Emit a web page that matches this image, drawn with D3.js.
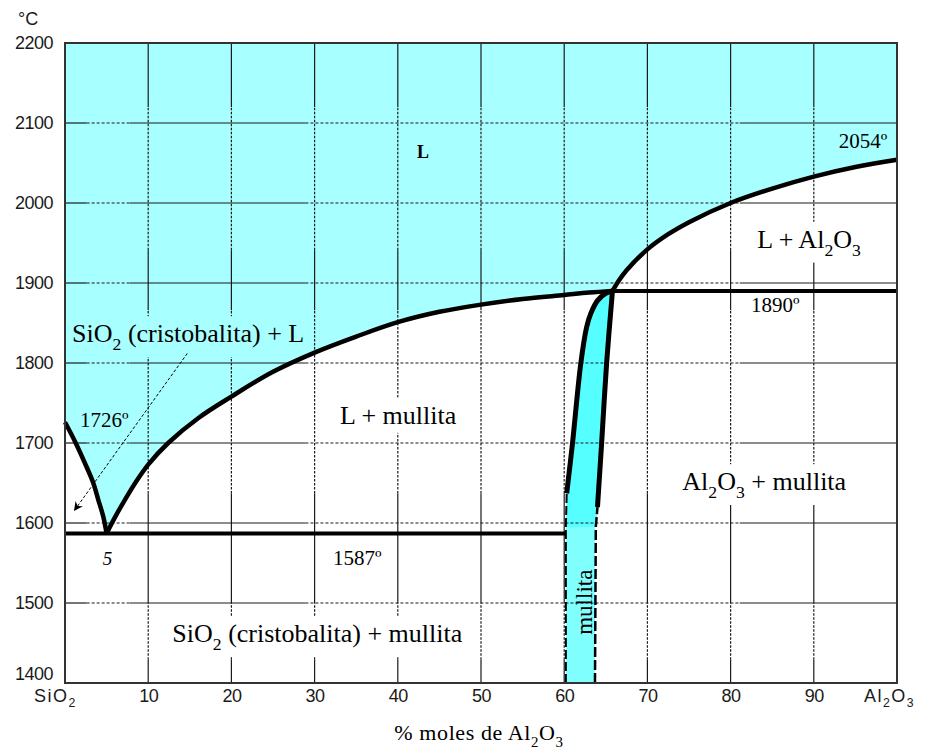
<!DOCTYPE html>
<html>
<head>
<meta charset="utf-8">
<script src="https://cdn.jsdelivr.net/npm/d3@7"></script>
<style>
  body { margin: 0; background: #ffffff; }
  svg { display: block; }
</style>
</head>
<body>
<svg id="chart" width="929" height="753"></svg>
<script>
// SiO2 – Al2O3 phase diagram (composition in mol % Al2O3, temperature in °C)

const xTicks = [0, 10, 20, 30, 40, 50, 60, 70, 80, 90, 100];
const xTickLabels = ["SiO_2", "10", "20", "30", "40", "50", "60", "70", "80", "90", "Al_2O_3"];
const yTicks = [1400, 1500, 1600, 1700, 1800, 1900, 2000, 2100, 2200];

// invariant points
const silicaMelt = 1726;
const eutecticComp = 5, eutecticT = 1587;
const peritecticComp = 65.8, peritecticT = 1890;
const aluminaMelt = 2054;
const mulliteLeftComp = 60.2, mulliteRightComp = 63.7;

// liquidus curves [mol % Al2O3, °C]
const silicaLiquidus = [[0, 1726], [1.2, 1702], [2.6, 1670], [3.4, 1650], [4.0, 1629], [4.6, 1608], [5, 1587]];
const mulliteLiquidus = [[5, 1587], [6.0, 1607], [7.2, 1629], [8.5, 1651], [10, 1673], [12.4, 1700], [16, 1731], [20, 1758],
  [25, 1789], [30, 1813], [35, 1833], [40, 1851], [45, 1864], [50, 1873], [55, 1880], [60, 1885], [63, 1888], [65.8, 1890]];
const aluminaLiquidus = [[65.8, 1890], [66.5, 1902], [67.5, 1916], [70, 1942], [72.5, 1961], [75, 1976],
  [80, 2000], [85, 2018], [90, 2033], [95, 2045], [100, 2054]];

// mullite solid-solution boundaries
const mulliteSolvusLeft = [[60.3, 1637], [61.0, 1700], [62.0, 1800], [62.7, 1845], [63.2, 1862], [64.0, 1878], [65.0, 1887], [65.8, 1890]];
const mulliteSolvusRight = [[64.0, 1620], [64.5, 1700], [65.1, 1800], [65.8, 1890]];
const mulliteLowLeft = [[60.2, 1400], [60.2, 1595], [60.3, 1637]];
const mulliteLowRight = [[63.7, 1400], [63.8, 1595], [64.0, 1620]];
const mulliteBandTop = 1595;

// grid line runs: solid / dashed pieces
const vGridRuns = [[1400, 1429, "s"], [1429, 1500, "d"], [1500, 1637, "s"], [1637, 1866, "d"], [1866, 1941, "s"], [1941, 2120, "d"], [2120, 2200, "s"]];
const hGridRuns = [[0, 2.6, "s"], [2.6, 7.8, "d"], [7.8, 28.9, "s"], [28.9, 81.1, "d"], [81.1, 100, "s"]];

// field and point labels
const fieldLabels = [
  { text: "SiO_2 (cristobalita) + L", c: 0.85, t: 1826, size: 26, bg: "#a8ffff" },
  { text: "L + mullita", c: 33.05, t: 1724, size: 26, bg: "#ffffff" },
  { text: "SiO_2 (cristobalita) + mullita", c: 12.9, t: 1451, size: 26, bg: "#ffffff" },
  { text: "L + Al_2O_3", c: 83.2, t: 1944, size: 26, bg: "#ffffff" },
  { text: "Al_2O_3 + mullita", c: 74.2, t: 1641, size: 26, bg: "#ffffff" },
  { text: "1726º", c: 1.8, t: 1720, size: 21, bg: null },
  { text: "1587º", c: 32.2, t: 1547, size: 21, bg: "#ffffff" },
  { text: "1890º", c: 82.45, t: 1864, size: 21, bg: null },
  { text: "2054º", c: 93.0, t: 2069, size: 21, bg: "#a8ffff" }
];

const W = 929, H = 753;
const plotLeft = 65, plotRight = 897, plotTop = 43, plotBottom = 683;

const x = d3.scaleLinear().domain([0, 100]).range([plotLeft, plotRight]);
const y = d3.scaleLinear().domain([1400, 2200]).range([plotBottom, plotTop]);

const svg = d3.select("#chart");
svg.append("rect").attr("width", W).attr("height", H).attr("fill", "#ffffff");

const defs = svg.append("defs");
defs.append("marker")
  .attr("id", "arrowhead")
  .attr("viewBox", "0 0 10 10")
  .attr("refX", 10).attr("refY", 5)
  .attr("markerUnits", "userSpaceOnUse")
  .attr("markerWidth", 11).attr("markerHeight", 9)
  .attr("orient", "auto")
  .append("path").attr("d", "M0,0 L10,5 L0,10 L3,5 z").attr("fill", "#000");

const curve = d3.line().x(d => x(d[0])).y(d => y(d[1])).curve(d3.curveCatmullRom.alpha(0.5));
const straight = d3.line().x(d => x(d[0])).y(d => y(d[1]));
const cont = p => "L" + p.slice(1);

// subscript-aware text
function rich(sel, str, size) {
  sel.text(null);
  const parts = str.split(/(_\d)/).filter(p => p.length);
  let shifted = false;
  parts.forEach(p => {
    if (p[0] === "_") {
      sel.append("tspan").attr("font-size", size * 0.68).attr("dy", size * 0.3).text(p.slice(1));
      shifted = true;
    } else {
      const t = sel.append("tspan").text(p);
      if (shifted) { t.attr("dy", -size * 0.3); shifted = false; }
    }
  });
}

// ---- liquid field (L and the two-phase wedges above the eutectic) ----
const liquidPath = `M${x(0)},${y(2200)}L${x(0)},${y(silicaMelt)}` +
  cont(curve(silicaLiquidus)) + cont(curve(mulliteLiquidus)) + cont(curve(aluminaLiquidus)) +
  `L${x(100)},${y(2200)}Z`;
svg.append("path").attr("d", liquidPath).attr("fill", "#a8ffff");

// ---- mullite solid solution ----
svg.append("rect")
  .attr("x", x(mulliteLeftComp)).attr("y", y(mulliteBandTop))
  .attr("width", x(mulliteRightComp) - x(mulliteLeftComp))
  .attr("height", y(1400) - y(mulliteBandTop))
  .attr("fill", "#80ffff");
const mulliteUpper = `M${x(mulliteLeftComp)},${y(mulliteBandTop)}` +
  cont(curve(mulliteSolvusLeft)) + cont(curve(mulliteSolvusRight.slice().reverse())) +
  `L${x(63.8)},${y(mulliteBandTop)}Z`;
svg.append("path").attr("d", mulliteUpper).attr("fill", "#55ffff");

// ---- grid ----
const grid = svg.append("g").attr("stroke", "#1a1a1a").attr("stroke-width", 1.2).attr("fill", "none");
xTicks.slice(1, -1).forEach(c => {
  vGridRuns.forEach(r => {
    grid.append("line")
      .attr("x1", x(c)).attr("x2", x(c))
      .attr("y1", y(r[0])).attr("y2", y(r[1]))
      .attr("stroke-dasharray", r[2] === "d" ? "2.5,1.5" : null);
  });
});
yTicks.slice(1, -1).forEach(t => {
  hGridRuns.forEach(r => {
    grid.append("line")
      .attr("x1", x(r[0])).attr("x2", x(r[1]))
      .attr("y1", y(t)).attr("y2", y(t))
      .attr("stroke-dasharray", r[2] === "d" ? "3,2" : null);
  });
});

// ---- labels (background boxes go under curves) ----
const bgLayer = svg.append("g");
const curveLayer = svg.append("g").attr("fill", "none").attr("stroke", "#000");
const textLayer = svg.append("g").attr("font-family", "'Liberation Serif', 'Times New Roman', serif").attr("fill", "#000");

fieldLabels.forEach(l => {
  const t = textLayer.append("text")
    .attr("x", x(l.c)).attr("y", y(l.t))
    .attr("font-size", l.size);
  rich(t, l.text, l.size);
  if (l.bg) {
    const b = t.node().getBBox();
    bgLayer.append("rect")
      .attr("x", b.x - 6).attr("y", b.y - 3)
      .attr("width", b.width + 12).attr("height", b.height + 6)
      .attr("fill", l.bg);
  }
});

// eutectic composition marker
textLayer.append("text")
  .attr("x", x(eutecticComp) + 1).attr("y", y(1547))
  .attr("font-size", 19).attr("font-style", "italic")
  .attr("text-anchor", "middle").text(eutecticComp);

// liquid label
textLayer.append("text")
  .attr("x", x(42.3)).attr("y", y(2056))
  .attr("font-family", "'Liberation Serif', 'Times New Roman', serif")
  .attr("font-weight", "bold").attr("font-size", 18).text("L");

// rotated mullite label
textLayer.append("text")
  .attr("transform", `translate(${x(62.55) + 7},${y(1501)}) rotate(-90)`)
  .attr("text-anchor", "middle").attr("font-size", 23).text("mullita");

// ---- curves ----
curveLayer.append("path").attr("d", curve(silicaLiquidus)).attr("stroke-width", 4.5);
curveLayer.append("path").attr("d", curve(mulliteLiquidus)).attr("stroke-width", 4.5);
curveLayer.append("path").attr("d", curve(aluminaLiquidus)).attr("stroke-width", 4.5);
curveLayer.append("path").attr("d", curve(mulliteSolvusLeft)).attr("stroke-width", 5);
curveLayer.append("path").attr("d", curve(mulliteSolvusRight)).attr("stroke-width", 5);
curveLayer.append("path").attr("d", straight(mulliteLowLeft)).attr("stroke-width", 2).attr("stroke-dasharray", "9,3");
curveLayer.append("path").attr("d", straight(mulliteLowRight)).attr("stroke-width", 2.5).attr("stroke-dasharray", "10,3");

// isotherms
curveLayer.append("line")
  .attr("x1", x(0)).attr("x2", x(mulliteLeftComp))
  .attr("y1", y(eutecticT)).attr("y2", y(eutecticT)).attr("stroke-width", 4);
curveLayer.append("line")
  .attr("x1", x(peritecticComp)).attr("x2", x(100))
  .attr("y1", y(peritecticT)).attr("y2", y(peritecticT)).attr("stroke-width", 4);

// leader arrow for the SiO2 (cristobalita) + L field
curveLayer.append("line")
  .attr("x1", x(14.7)).attr("y1", y(1812))
  .attr("x2", x(1.08)).attr("y2", y(1615))
  .attr("stroke-width", 1).attr("stroke-dasharray", "3,2")
  .attr("marker-end", "url(#arrowhead)");

// ---- frame ----
svg.append("rect")
  .attr("x", plotLeft).attr("y", plotTop)
  .attr("width", plotRight - plotLeft).attr("height", plotBottom - plotTop)
  .attr("fill", "none").attr("stroke", "#333").attr("stroke-width", 2);

// ---- axes ----
const tickFont = "'Liberation Sans', Arial, sans-serif";
const yAxis = svg.append("g")
  .attr("transform", `translate(${plotLeft},0)`)
  .call(d3.axisLeft(y).tickValues(yTicks).tickSize(0).tickPadding(12).tickFormat(d3.format("d")));
yAxis.select(".domain").remove();
yAxis.selectAll("text")
  .attr("font-family", tickFont).attr("font-size", 18).attr("fill", "#1a1a1a").attr("letter-spacing", -0.5)
  .attr("dy", d => d === yTicks[0] ? "-0.2em" : "0.32em");

const xAxis = svg.append("g")
  .attr("transform", `translate(0,${plotBottom})`)
  .call(d3.axisBottom(x).tickValues(xTicks).tickSize(0).tickPadding(6).tickFormat((d, i) => xTickLabels[i]));
xAxis.select(".domain").remove();
xAxis.selectAll("text")
  .attr("font-family", tickFont).attr("font-size", 18).attr("fill", "#1a1a1a")
  .attr("letter-spacing", (d, i) => xTickLabels[i].includes("_") ? 1.5 : -0.5)
  .attr("dx", (d, i) => i === 0 ? -10 : (i === xTicks.length - 1 ? -8 : 0))
  .each(function (d, i) { rich(d3.select(this), xTickLabels[i], 18); });

// unit label
svg.append("text")
  .attr("x", 18).attr("y", 25)
  .attr("font-family", tickFont).attr("font-size", 18).attr("fill", "#1a1a1a")
  .text("°C");

// axis title
const xt = svg.append("text")
  .attr("x", 479).attr("y", 740)
  .attr("text-anchor", "middle")
  .attr("font-family", "'Liberation Serif', 'Times New Roman', serif")
  .attr("font-size", 22)
  .attr("letter-spacing", 0.6);
rich(xt, "% moles de Al_2O_3", 22);
</script>
</body>
</html>
